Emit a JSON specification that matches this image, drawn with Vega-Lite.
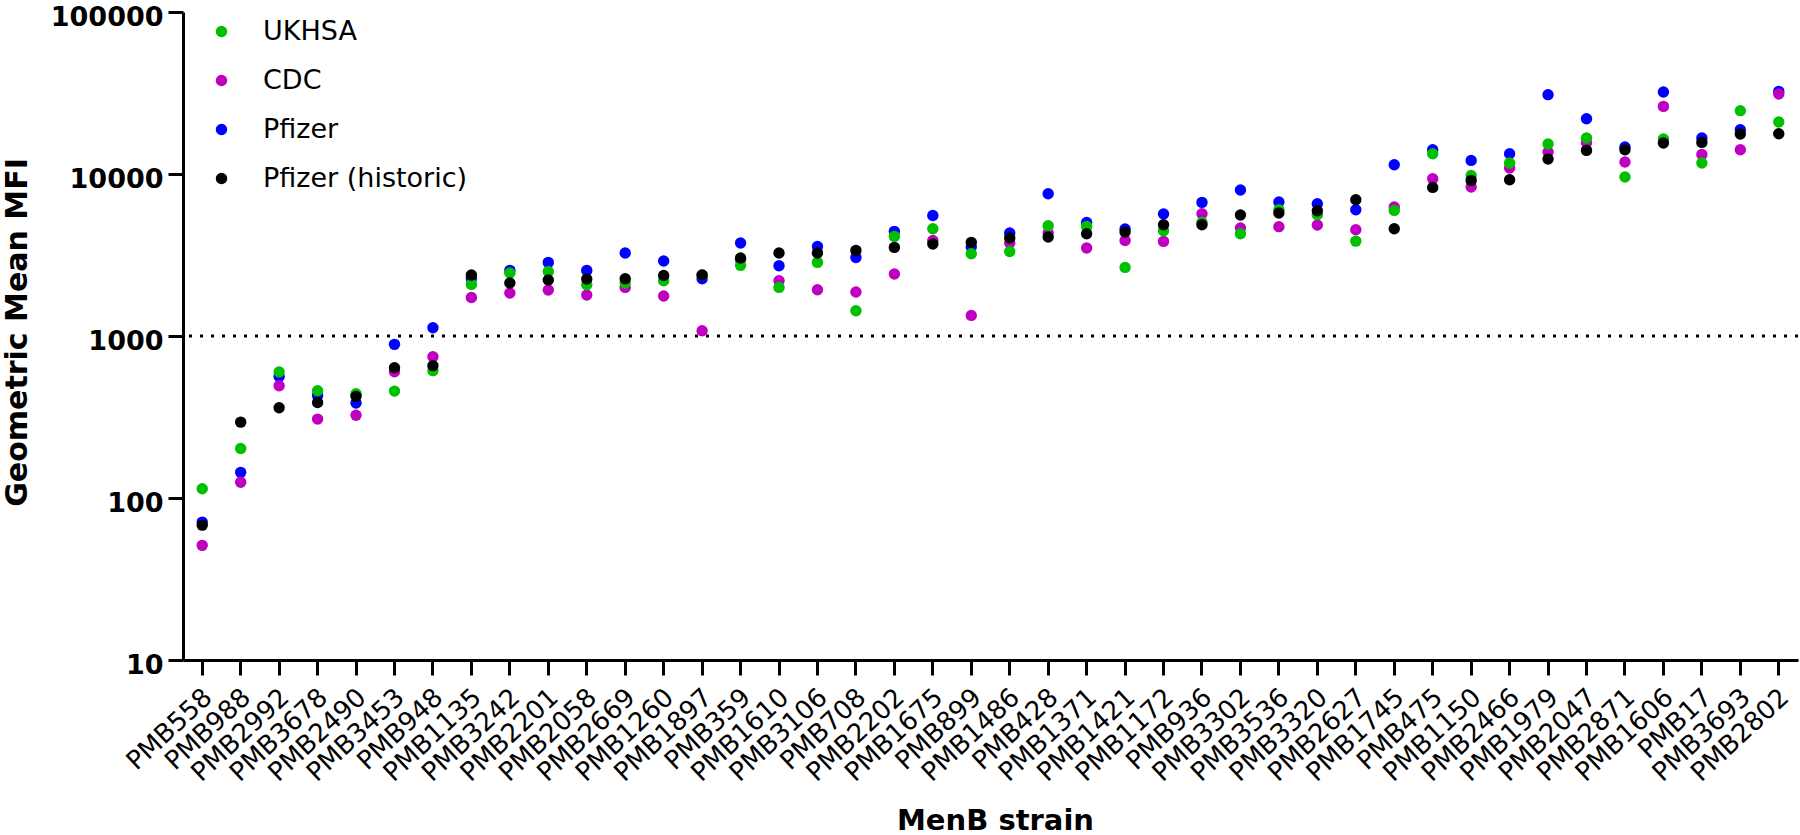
{
  "$schema": "https://vega.github.io/schema/vega-lite/v6.json",
  "width": 1615,
  "height": 648,
  "autosize": {"type": "none"},
  "padding": {"left": 183, "top": 12, "right": 2, "bottom": 175},
  "background": "white",
  "config": {
    "view": {"stroke": null},
    "font": "DejaVu Sans",
    "axis": {
      "grid": false,
      "domainColor": "black",
      "domainWidth": 3,
      "tickColor": "black",
      "tickWidth": 3,
      "tickSize": 15,
      "labelColor": "black",
      "titleColor": "black",
      "labelFont": "DejaVu Sans",
      "titleFont": "DejaVu Sans"
    }
  },
  "data": {
    "values": [
      {"strain": "PMB558", "UKHSA": 114, "CDC": 51, "Pfizer": 71, "Pfizer (historic)": 68},
      {"strain": "PMB988", "UKHSA": 202, "CDC": 125, "Pfizer": 144, "Pfizer (historic)": 294},
      {"strain": "PMB2992", "UKHSA": 600, "CDC": 493, "Pfizer": 563, "Pfizer (historic)": 361},
      {"strain": "PMB3678", "UKHSA": 459, "CDC": 307, "Pfizer": 430, "Pfizer (historic)": 389},
      {"strain": "PMB2490", "UKHSA": 440, "CDC": 324, "Pfizer": 386, "Pfizer (historic)": 424},
      {"strain": "PMB3453", "UKHSA": 457, "CDC": 602, "Pfizer": 888, "Pfizer (historic)": 637},
      {"strain": "PMB948", "UKHSA": 611, "CDC": 745, "Pfizer": 1125, "Pfizer (historic)": 656},
      {"strain": "PMB1135", "UKHSA": 2082, "CDC": 1730, "Pfizer": 2267, "Pfizer (historic)": 2380},
      {"strain": "PMB3242", "UKHSA": 2449, "CDC": 1843, "Pfizer": 2541, "Pfizer (historic)": 2124},
      {"strain": "PMB2201", "UKHSA": 2504, "CDC": 1923, "Pfizer": 2847, "Pfizer (historic)": 2216},
      {"strain": "PMB2058", "UKHSA": 2073, "CDC": 1790, "Pfizer": 2541, "Pfizer (historic)": 2249},
      {"strain": "PMB2669", "UKHSA": 2124, "CDC": 1995, "Pfizer": 3254, "Pfizer (historic)": 2258},
      {"strain": "PMB1260", "UKHSA": 2194, "CDC": 1764, "Pfizer": 2904, "Pfizer (historic)": 2366},
      {"strain": "PMB1897", "UKHSA": 2380, "CDC": 1078, "Pfizer": 2258, "Pfizer (historic)": 2380},
      {"strain": "PMB359", "UKHSA": 2729, "CDC": 2958, "Pfizer": 3750, "Pfizer (historic)": 3030},
      {"strain": "PMB1610", "UKHSA": 1995, "CDC": 2194, "Pfizer": 2716, "Pfizer (historic)": 3254},
      {"strain": "PMB3106", "UKHSA": 2847, "CDC": 1931, "Pfizer": 3573, "Pfizer (historic)": 3254},
      {"strain": "PMB708", "UKHSA": 1433, "CDC": 1869, "Pfizer": 3055, "Pfizer (historic)": 3376},
      {"strain": "PMB2202", "UKHSA": 4120, "CDC": 2414, "Pfizer": 4424, "Pfizer (historic)": 3524},
      {"strain": "PMB1675", "UKHSA": 4592, "CDC": 3890, "Pfizer": 5550, "Pfizer (historic)": 3698},
      {"strain": "PMB899", "UKHSA": 3222, "CDC": 1340, "Pfizer": 3542, "Pfizer (historic)": 3784},
      {"strain": "PMB1486", "UKHSA": 3327, "CDC": 3750, "Pfizer": 4323, "Pfizer (historic)": 4027},
      {"strain": "PMB428", "UKHSA": 4795, "CDC": 4323, "Pfizer": 7550, "Pfizer (historic)": 4085},
      {"strain": "PMB1371", "UKHSA": 4750, "CDC": 3493, "Pfizer": 5025, "Pfizer (historic)": 4280},
      {"strain": "PMB1421", "UKHSA": 2651, "CDC": 3890, "Pfizer": 4575, "Pfizer (historic)": 4385},
      {"strain": "PMB1172", "UKHSA": 4467, "CDC": 3838, "Pfizer": 5664, "Pfizer (historic)": 4864},
      {"strain": "PMB936", "UKHSA": 5025, "CDC": 5690, "Pfizer": 6680, "Pfizer (historic)": 4864},
      {"strain": "PMB3302", "UKHSA": 4280, "CDC": 4641, "Pfizer": 7967, "Pfizer (historic)": 5580},
      {"strain": "PMB3536", "UKHSA": 6020, "CDC": 4730, "Pfizer": 6716, "Pfizer (historic)": 5740},
      {"strain": "PMB3320", "UKHSA": 5605, "CDC": 4846, "Pfizer": 6555, "Pfizer (historic)": 5935},
      {"strain": "PMB2627", "UKHSA": 3853, "CDC": 4530, "Pfizer": 6020, "Pfizer (historic)": 6940},
      {"strain": "PMB1745", "UKHSA": 5960, "CDC": 6255, "Pfizer": 11410, "Pfizer (historic)": 4592},
      {"strain": "PMB475", "UKHSA": 13340, "CDC": 9350, "Pfizer": 14130, "Pfizer (historic)": 8265},
      {"strain": "PMB1150", "UKHSA": 9800, "CDC": 8310, "Pfizer": 12130, "Pfizer (historic)": 9130},
      {"strain": "PMB2466", "UKHSA": 11690, "CDC": 10890, "Pfizer": 13340, "Pfizer (historic)": 9220},
      {"strain": "PMB1979", "UKHSA": 15320, "CDC": 13670, "Pfizer": 30880, "Pfizer (historic)": 12380},
      {"strain": "PMB2047", "UKHSA": 16680, "CDC": 15670, "Pfizer": 21950, "Pfizer (historic)": 13990},
      {"strain": "PMB2871", "UKHSA": 9580, "CDC": 11860, "Pfizer": 14680, "Pfizer (historic)": 14130},
      {"strain": "PMB1606", "UKHSA": 16440, "CDC": 26140, "Pfizer": 32060, "Pfizer (historic)": 15540},
      {"strain": "PMB17", "UKHSA": 11690, "CDC": 13210, "Pfizer": 16680, "Pfizer (historic)": 15670},
      {"strain": "PMB3693", "UKHSA": 24600, "CDC": 14130, "Pfizer": 18770, "Pfizer (historic)": 17660},
      {"strain": "PMB2802", "UKHSA": 20940, "CDC": 31180, "Pfizer": 32360, "Pfizer (historic)": 17730}
    ]
  },
  "layer": [
    {
      "data": {"values": [{"threshold": 1000}]},
      "mark": {"type": "rule", "color": "black", "strokeWidth": 3, "strokeDash": [3, 8], "strokeCap": "butt"},
      "encoding": {
        "y": {"field": "threshold", "type": "quantitative", "scale": {"type": "log", "domain": [10, 100000], "nice": false}}
      }
    },
    {
      "transform": [
        {"fold": ["Pfizer", "CDC", "UKHSA", "Pfizer (historic)"], "as": ["lab", "mfi"]}
      ],
      "mark": {"type": "circle", "size": 130, "opacity": 1},
      "encoding": {
        "x": {
          "field": "strain",
          "type": "nominal",
          "sort": null,
          "scale": {"type": "band", "paddingInner": 0, "paddingOuter": 0},
          "axis": {
            "title": "MenB strain",
            "titleFontSize": 29,
            "titleFontWeight": "bold",
            "titleAlign": "center",
            "titleBaseline": "alphabetic",
            "titleX": 812,
            "titleY": 169,
            "labelFontSize": 26,
            "labelFontWeight": "normal",
            "labelAngle": -43,
            "labelAlign": "right",
            "labelBaseline": "middle",
            "labelPadding": 18,
            "labelOffset": 6
          }
        },
        "y": {
          "field": "mfi",
          "type": "quantitative",
          "scale": {"type": "log", "domain": [10, 100000], "nice": false},
          "axis": {
            "title": "Geometric Mean MFI",
            "titleFontSize": 30,
            "titleFontWeight": "bold",
            "titleAngle": -90,
            "titleAlign": "center",
            "titleBaseline": "middle",
            "titleX": -166,
            "titleY": 320,
            "values": [10, 100, 1000, 10000, 100000],
            "format": "d",
            "labelFontSize": 27,
            "labelFontWeight": "bold",
            "labelBaseline": "alphabetic",
            "labelPadding": 5,
            "labelOffset": 13
          }
        },
        "color": {
          "field": "lab",
          "type": "nominal",
          "scale": {
            "domain": ["UKHSA", "CDC", "Pfizer", "Pfizer (historic)"],
            "range": ["#00C000", "#C000C0", "#0000FF", "#000000"]
          },
          "legend": {
            "title": null,
            "orient": "none",
            "legendX": 25,
            "legendY": 6,
            "padding": 0,
            "symbolType": "circle",
            "symbolSize": 130,
            "symbolOpacity": 1,
            "labelFontSize": 27,
            "labelFont": "DejaVu Sans",
            "labelColor": "black",
            "labelLimit": 0,
            "labelOffset": 28,
            "rowPadding": 21
          }
        }
      }
    }
  ]
}
